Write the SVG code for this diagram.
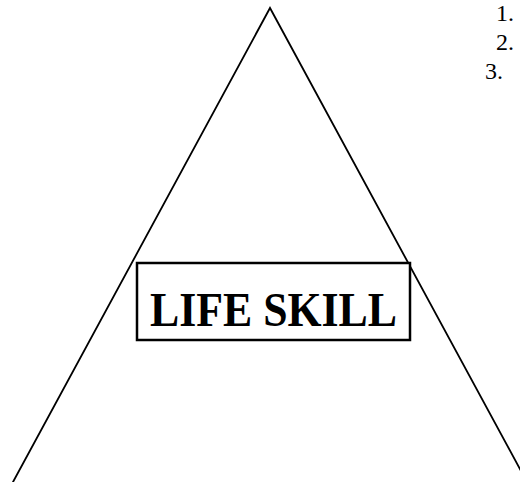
<svg xmlns="http://www.w3.org/2000/svg" width="520" height="482" viewBox="0 0 520 482">
<style>
.ln{stroke:#000;stroke-width:1.8;fill:none;stroke-linecap:round}
.num{font-family:"Liberation Serif",serif;font-size:24px;fill:#000}
.lbl{font-family:"Liberation Serif",serif;font-size:48px;font-weight:bold;fill:#000}
</style>
<rect width="520" height="482" fill="#fff"/>
<g id="connectors">
<path class="ln" d="M13,482 L270,8 L527,482"/>
</g>
<g id="life-skill">
<rect x="137" y="263" width="273" height="77" fill="#fff" stroke="#000" stroke-width="2.5"/>
<text class="lbl" x="273.5" y="326" text-anchor="middle" textLength="247" lengthAdjust="spacingAndGlyphs">LIFE SKILL</text>
</g>
<g id="list">
<text class="num" x="496" y="21">1.</text>
<text class="num" x="496" y="50">2.</text>
<text class="num" x="485" y="79">3.</text>
</g>
</svg>
